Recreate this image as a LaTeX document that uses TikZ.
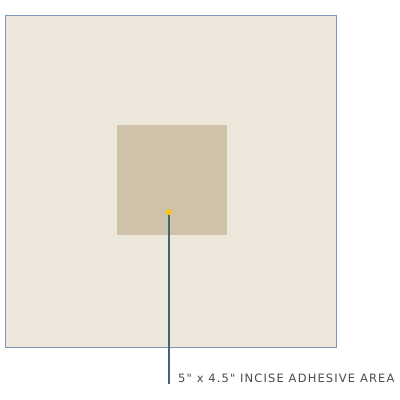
\documentclass[tikz,border=0pt]{standalone}
\usepackage{fontspec}
\setmainfont{DejaVu Sans}
\newfontfamily\labelfont[LetterSpace=10]{DejaVu Sans}
\definecolor{outerfill}{HTML}{EDE6DB}
\definecolor{outerline}{HTML}{7F96B9}
\definecolor{innerfill}{HTML}{CEC3A8}
\definecolor{dotcol}{HTML}{F5C518}
\definecolor{leadcol}{HTML}{3E6670}
\definecolor{textcol}{HTML}{4A4A4A}
\tikzset{
  sheet/.style={fill=outerfill, draw=outerline, line width=1pt},
  pad/.style={fill=innerfill},
  leader/.style={draw=leadcol, line width=1.3pt},
  lbl/.style={text=textcol, font=\labelfont\fontsize{11.5}{13}\selectfont, anchor=west, inner sep=0pt}
}
\begin{document}
\begin{tikzpicture}[x=1pt,y=-1pt]
\useasboundingbox (0,0) rectangle (400,400);
\draw[sheet] (5,15) rectangle (336,347);
\fill[pad] (117,125) rectangle (227,235);
\node[circle, fill=dotcol, minimum size=6pt, inner sep=0pt] (dot) at (169,212) {};
\coordinate (end) at (169,384);
\draw[leader] (dot.center) -- (end);
\fill[dotcol] (dot) circle (3pt);
\node[lbl] (label) at (178,378) {5" x 4.5" INCISE ADHESIVE AREA};
\end{tikzpicture}
\end{document}
